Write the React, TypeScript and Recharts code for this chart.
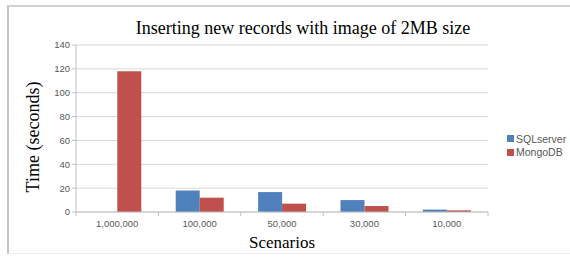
import React from "react";
import { BarChart, Bar, XAxis, YAxis, CartesianGrid } from "recharts";

const scenarios = ["1,000,000", "100,000", "50,000", "30,000", "10,000"];
const sqlServer = [0, 18, 16.7, 10, 2];
const mongoDB = [118, 12, 7, 5, 1.4];
const yTicks = [0, 20, 40, 60, 80, 100, 120, 140];

const series = [
  { key: "SQLserver", color: "#4f81bd" },
  { key: "MongoDB", color: "#c0504d" },
];

const data = scenarios.map((s, i) => ({
  scenario: s,
  SQLserver: sqlServer[i],
  MongoDB: mongoDB[i],
}));

const W = 570;
const H = 258;
const margin = { top: 45, right: 82, left: 36, bottom: 0 };
const Y_AXIS_W = 40;
const X_AXIS_H = 46;
const band = (W - margin.left - margin.right - Y_AXIS_W) / scenarios.length;

const AXIS = "#bfbfbf";
const GRID = "#d9d9d9";
const TEXT = "#595959";
const SANS = "'Liberation Sans', Arial, sans-serif";
const SERIF = "'Liberation Serif', 'Times New Roman', serif";

const XTick = (props: any) => {
  const { x, y, payload, index } = props;
  return (
    <g>
      <line x1={x - band / 2} x2={x - band / 2} y1={y - 8} y2={y - 4} stroke={AXIS} />
      {index === scenarios.length - 1 && (
        <line x1={x + band / 2} x2={x + band / 2} y1={y - 8} y2={y - 4} stroke={AXIS} />
      )}
      <text x={x} y={y + 7} textAnchor="middle" fontSize={9.5} fill={TEXT} fontFamily={SANS}>
        {payload.value}
      </text>
    </g>
  );
};

export default function App() {
  return (
    <div style={{ position: "absolute", left: 0, top: 0, width: W, height: H, background: "#fff" }}>
      <div
        style={{
          position: "absolute",
          left: 7,
          top: 5,
          width: W - 9,
          height: 246,
          borderTop: "2px solid #d2d2d2",
          borderLeft: "2px solid #c4c4c4",
          borderBottom: "1px solid #eeeeee",
        }}
      />
      <div
        style={{
          position: "absolute",
          left: 0,
          width: 606,
          top: 18,
          textAlign: "center",
          fontFamily: SERIF,
          fontSize: 18,
          color: "#000",
          whiteSpace: "nowrap",
        }}
      >
        Inserting new records with image of 2MB size
      </div>
      <div
        style={{
          position: "absolute",
          left: 33,
          top: 137,
          transform: "translate(-50%, -50%) rotate(-90deg)",
          fontFamily: SERIF,
          fontSize: 18,
          color: "#000",
          whiteSpace: "nowrap",
        }}
      >
        Time (seconds)
      </div>
      <div
        style={{
          position: "absolute",
          left: 0,
          width: 564,
          top: 233,
          textAlign: "center",
          fontFamily: SERIF,
          fontSize: 17,
          color: "#000",
        }}
      >
        Scenarios
      </div>
      <div style={{ position: "absolute", left: 507, top: 132, fontFamily: SANS, fontSize: 10.5, color: TEXT }}>
        {series.map((s) => (
          <div key={s.key} style={{ display: "flex", alignItems: "center", height: 13.5 }}>
            <span style={{ width: 7, height: 7, background: s.color, marginRight: 2 }} />
            {s.key}
          </div>
        ))}
      </div>
      <BarChart
        width={W}
        height={H}
        data={data}
        margin={margin}
        barCategoryGap="21%"
        barGap={0}
      >
        <CartesianGrid vertical={false} stroke={GRID} />
        <XAxis
          dataKey="scenario"
          height={X_AXIS_H}
          stroke={AXIS}
          tickLine={false}
          tick={<XTick />}
          interval={0}
        />
        <YAxis
          width={Y_AXIS_W}
          domain={[0, 140]}
          ticks={yTicks}
          stroke={AXIS}
          tickSize={4}
          tickMargin={2}
          tick={{ fontSize: 9.5, fill: TEXT, fontFamily: SANS }}
        />
        {series.map((s) => (
          <Bar key={s.key} dataKey={s.key} fill={s.color} isAnimationActive={false} />
        ))}
      </BarChart>
    </div>
  );
}
